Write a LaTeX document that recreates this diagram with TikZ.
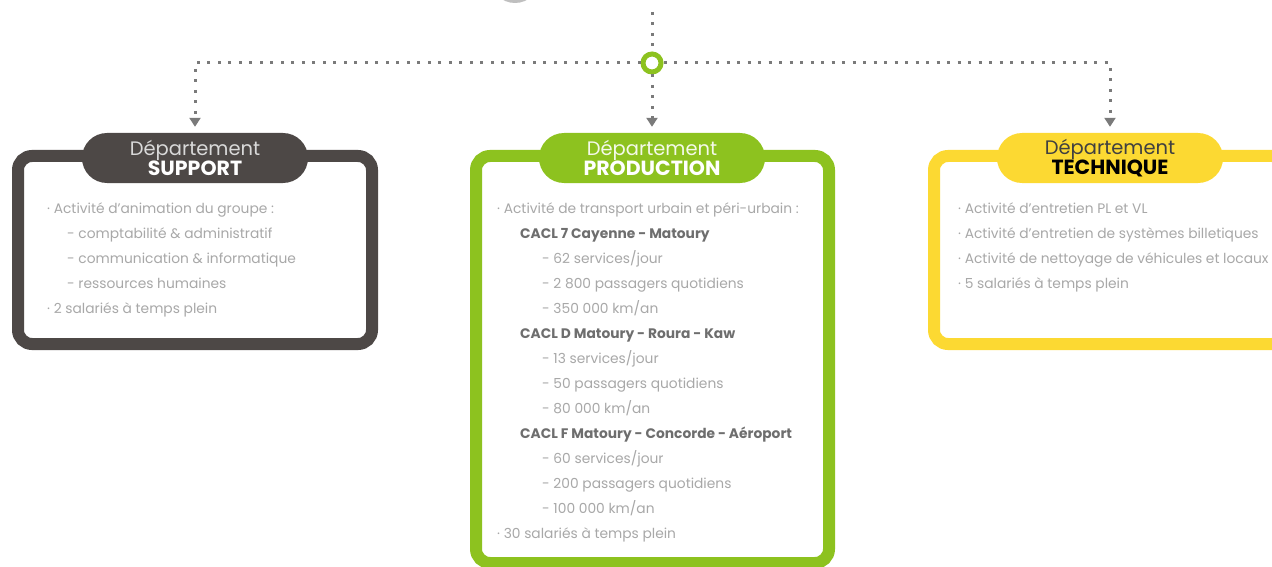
\documentclass[tikz,border=0pt]{standalone}
\usepackage{fontspec}
\setmainfont{Poppins}
\usepackage{tikz}
\usetikzlibrary{arrows.meta, positioning}
\definecolor{suppgray}{HTML}{4D4846}
\definecolor{prodgreen}{HTML}{8DC21F}
\definecolor{techyellow}{HTML}{FCD932}
\definecolor{dotgray}{HTML}{7A7A7A}
\definecolor{textgray}{HTML}{A8A8A8}
\definecolor{headgray}{HTML}{6E6E6E}
\tikzset{
  dept/.style={
    draw=#1, line width=12pt, fill=white,
    rounded corners=14pt, inner sep=0pt
  },
  tab/.style={
    fill=#1, rounded corners=25pt,
    minimum width=226pt, minimum height=50pt,
    inner sep=0pt, align=center
  },
  link/.style={
    draw=dotgray, line width=3pt, dash pattern=on 3pt off 7.5pt
  },
  items/.style={
    anchor=north west, align=left, inner sep=0pt,
    text=textgray, font=\fontsize{13.8}{25}\selectfont
  }
}
\newcommand{\ttl}[2]{{\fontsize{19.5}{21}\selectfont #1}\\[-1pt]{\fontsize{20.5}{21}\selectfont\bfseries #2}}
\newcommand{\cacl}[1]{{\bfseries\color{headgray}#1}}

\begin{document}
\begin{tikzpicture}[x=1pt, y=-1pt, >={Triangle[width=11pt,length=9pt]}]
  \useasboundingbox (0,0) rectangle (1272,567);
  % top of the parent block
  \fill[black!25] (515,-22) circle (25pt);

  % departments
  \node[dept=suppgray, minimum width=354pt, minimum height=188pt] (suppbox) at (195,250) {};
  \node[dept=prodgreen, minimum width=353pt, minimum height=407pt] (prodbox) at (652.5,359.5) {};
  \node[dept=techyellow, minimum width=352pt, minimum height=188pt] (techbox) at (1110,250) {};

  \node[tab=suppgray, text=white] (supptab) at (195,158)
    {\ttl{\color{black!15}Département}{SUPPORT}};
  \node[tab=prodgreen, text=white] (prodtab) at (652,158)
    {\ttl{\color{white!90!prodgreen}Département}{PRODUCTION}};
  \node[tab=techyellow, text=black] (techtab) at (1110,158)
    {\ttl{\color{black!75}Département}{TECHNIQUE}};

  % links
  \node[circle, draw=prodgreen, line width=5pt, fill=white, minimum size=18pt, inner sep=0pt] (hub) at (652,63) {};
  \coordinate (top) at (652,12);
  \coordinate (lcorner) at (195,63);
  \coordinate (rcorner) at (1110,63);
  \draw[link] (top) -- (hub);
  \draw[link, ->, shorten >=6pt] (hub) -- (prodtab);
  \draw[link, ->, shorten >=6pt] (hub) -- (lcorner) -- (supptab);
  \draw[link, ->, shorten >=6pt] (hub) -- (rcorner) -- (techtab);

  % contents
  \node[items] (supptext) at (47,203) {%
    · Activité d'animation du groupe :\\
    \hspace{20pt}- comptabilité \& administratif\\
    \hspace{20pt}- communication \& informatique\\
    \hspace{20pt}- ressources humaines\\
    · 2 salariés à temps plein};
  \node[items] (prodtext) at (497,203) {%
    · Activité de transport urbain et péri-urbain :\\
    \hspace{23pt}\cacl{CACL 7 Cayenne - Matoury}\\
    \hspace{45pt}- 62 services/jour\\
    \hspace{45pt}- 2 800 passagers quotidiens\\
    \hspace{45pt}- 350 000 km/an\\
    \hspace{23pt}\cacl{CACL D Matoury - Roura - Kaw}\\
    \hspace{45pt}- 13 services/jour\\
    \hspace{45pt}- 50 passagers quotidiens\\
    \hspace{45pt}- 80 000 km/an\\
    \hspace{23pt}\cacl{CACL F Matoury - Concorde - Aéroport}\\
    \hspace{45pt}- 60 services/jour\\
    \hspace{45pt}- 200 passagers quotidiens\\
    \hspace{45pt}- 100 000 km/an\\
    · 30 salariés à temps plein};
  \node[items] (techtext) at (958,203) {%
    · Activité d'entretien PL et VL\\
    · Activité d'entretien de systèmes billetiques\\
    · Activité de nettoyage de véhicules et locaux\\
    · 5 salariés à temps plein};
\end{tikzpicture}
\end{document}
